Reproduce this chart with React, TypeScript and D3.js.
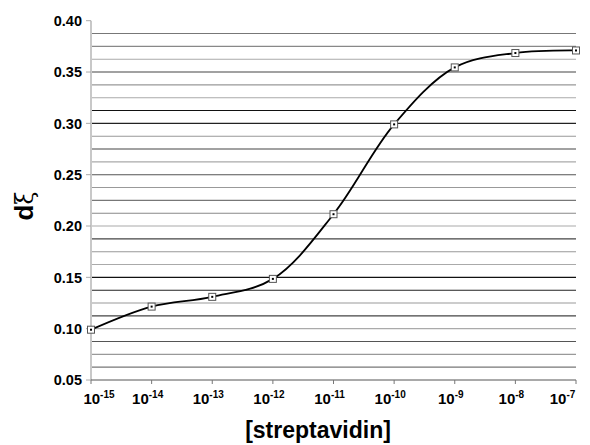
import React from 'react';
import * as d3 from 'd3';

// concentration exponents (10^x) and measured dξ
const exponents = [-15, -14, -13, -12, -11, -10, -9, -8, -7];
const dXi = [0.099, 0.1215, 0.131, 0.1485, 0.2115, 0.299, 0.3545, 0.3685, 0.371];
const yTicks = [0.05, 0.1, 0.15, 0.2, 0.25, 0.3, 0.35, 0.4];

const W = 590;
const H = 445;
const margin = { top: 20.7, right: 14, bottom: 65, left: 91 };

// scanned gridlines come in uneven greys
const gridShades = ['#777', '#999', '#555', '#aaa', '#444', '#999', '#222', '#111', '#aaa', '#999', '#444', '#aaa', '#888'];

const App = () => {
  const x = d3.scaleLinear()
    .domain([-15, -7])
    .range([margin.left, W - margin.right]);
  const y = d3.scaleLinear()
    .domain([0.05, 0.4])
    .range([H - margin.bottom, margin.top]);

  const gridVals = d3.range(0.0625, 0.399, 0.0125);

  const line = d3.line<number>()
    .x((_, i) => x(exponents[i]))
    .y(d => y(d))
    .curve(d3.curveCatmullRom.alpha(0.5));

  const tickW = (e: number) => (String(e).length > 2 ? 34 : 27);

  return (
    <div style={{ position: 'fixed', left: 0, top: 0, background: '#fff' }}>
      <svg width={W} height={H} style={{ display: 'block', fontFamily: 'Arial, "Liberation Sans", sans-serif' }}>
        <rect width={W} height={H} fill="#fff" />

        {/* grid */}
        {gridVals.map((v, i) => (
          <line key={i} x1={x(-15)} x2={x(-7)} y1={y(v)} y2={y(v)}
            stroke={gridShades[i % gridShades.length]} strokeWidth={1.1} />
        ))}

        {/* y axis */}
        <line x1={x(-15)} x2={x(-15)} y1={y(0.4)} y2={y(0.05)} stroke="#c8c8c8" strokeWidth={2} />
        {yTicks.map(t => (
          <g key={t}>
            <line x1={x(-15) - 5} x2={x(-15)} y1={y(t)} y2={y(t)} stroke="#aaa" strokeWidth={1} />
            <text x={82} y={y(t)} dy="0.36em" textAnchor="end" fontSize={14.5} fontWeight="bold" fill="#000">
              {t.toFixed(2)}
            </text>
          </g>
        ))}

        {/* x axis */}
        <line x1={x(-15)} x2={x(-7)} y1={y(0.05)} y2={y(0.05)} stroke="#555" strokeWidth={1} />
        {exponents.map(e => {
          const w = tickW(e);
          const cx = Math.min(Math.max(x(e) - 4, 82 + w / 2), 576 - w / 2);
          return (
            <g key={e}>
              <line x1={x(e)} x2={x(e)} y1={y(0.05)} y2={y(0.05) + 4} stroke="#777" strokeWidth={1} />
              <text x={cx} y={404} textAnchor="middle" fontSize={15} fontWeight="bold" fill="#000">
                10<tspan fontSize={10} dy={-6}>{e}</tspan>
              </text>
            </g>
          );
        })}

        {/* curve */}
        <path d={line(dXi) || ''} fill="none" stroke="#000" strokeWidth={1.8} />

        {/* markers */}
        {dXi.map((v, i) => (
          <g key={i}>
            <rect x={x(exponents[i]) - 3.5} y={y(v) - 3.5} width={7} height={7}
              fill="#fff" stroke="#555" strokeWidth={1} />
            <rect x={x(exponents[i]) - 1} y={y(v) - 1} width={2} height={2} fill="#000" />
          </g>
        ))}

        {/* axis titles */}
        <text transform="translate(33,206) rotate(-90)" textAnchor="middle" fill="#000">
          <tspan fontSize={26} fontWeight="bold">d</tspan>
          <tspan fontSize={24} fontFamily='"DejaVu Serif", serif'>ξ</tspan>
        </text>
        <text x={318} y={438} textAnchor="middle" fontSize={23} fontWeight="bold" fill="#000">
          [streptavidin]
        </text>
      </svg>
    </div>
  );
};

export default App;
